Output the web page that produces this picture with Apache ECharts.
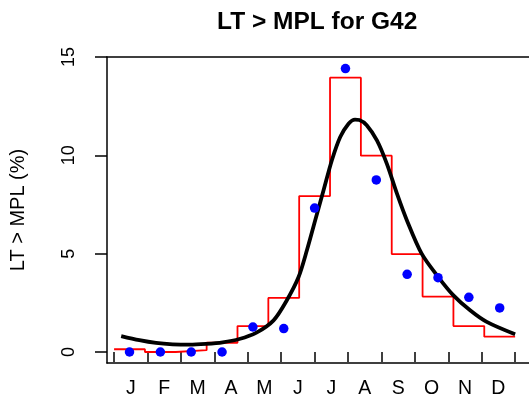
<!DOCTYPE html>
<html lang="en">
<head>
    <meta charset="UTF-8">
    <title>LT > MPL for G42</title>
    <script src="https://cdn.jsdelivr.net/npm/echarts@6/dist/echarts.min.js"></script>
    <style>
        html, body { margin: 0; padding: 0; background: #fff; }
    </style>
</head>
<body>
<div id="main" style="width:529px;height:407px;"></div>
<script>
    // month labels under the axis
    const months = ['J', 'F', 'M', 'A', 'M', 'J', 'J', 'A', 'S', 'O', 'N', 'D'];
    const yTicks = [0, 5, 10, 15];

    // 13 four-week periods: observed points (blue) and step values (red)
    const observed = [0, 0, 0, 0, 1.27, 1.19, 7.32, 14.41, 8.75, 3.95, 3.78, 2.78, 2.24];
    const stepVals = [0.14, 0.0, 0.09, 0.47, 1.32, 2.75, 7.93, 13.95, 9.98, 4.98, 2.82, 1.32, 0.78];

    // fitted curve (black), x in period units
    const curveX = [0.23, 0.82, 1.36, 1.90, 2.44, 2.98, 3.52, 4.06, 4.60, 5.17, 5.60, 5.98, 6.25, 6.52, 6.79,
        7.06, 7.33, 7.60, 7.81, 7.95, 8.19, 8.52, 8.84, 9.17, 9.49, 9.97, 10.51, 11.0, 11.54, 12.08, 13.0];
    const curveY = [0.81, 0.60, 0.46, 0.39, 0.37, 0.41, 0.49, 0.66, 0.97, 1.61, 2.63, 3.81, 5.17, 6.70, 8.22,
        9.75, 10.93, 11.61, 11.82, 11.80, 11.53, 10.76, 9.58, 8.05, 6.70, 5.00, 3.81, 2.88, 2.12, 1.53, 0.90];

    const font = 'Liberation Sans, Arial, sans-serif';
    // plot box runs past the right edge of the picture, so no right border
    const xMin = -0.23, xMax = 13.45;
    const nPer = observed.length;
    const k = months.length / nPer; // months per period

    let pts = observed.map((v, i) => [i + 0.5, v]);
    let steps = stepVals.map((v, i) => [i, v]);
    steps.push([nPer, stepVals[nPer - 1]]);
    let curve = curveX.map((x, i) => [x, curveY[i]]);

    let monthTicks = [];
    let monthMids = [];
    for (let m = 0; m <= months.length; m++) monthTicks.push(m);
    for (let m = 0; m < months.length; m++) monthMids.push(m + 0.5);

    const boxLine = {show: true, onZero: false, lineStyle: {color: '#000', width: 1.5}};

    let myChart = echarts.init(document.getElementById('main'), null, {renderer: 'canvas'});
    let option = {
        animation: false,
        backgroundColor: '#fff',
        title: {
            text: 'LT > MPL for G42',
            left: 212,
            top: 5,
            textStyle: {fontFamily: font, fontSize: 24.5, fontWeight: 'bold', color: '#000'}
        },
        grid: {left: 107, right: 0, top: 57, bottom: 44},
        xAxis: [{
            // period axis, draws bottom of the box
            type: 'value', min: xMin, max: xMax, position: 'bottom',
            axisLine: boxLine, axisTick: {show: false}, axisLabel: {show: false}, splitLine: {show: false}
        }, {
            // month axis, hanging just under the box
            type: 'value', position: 'bottom', offset: 2,
            min: xMin * k, max: xMax * k,
            axisLine: {show: false},
            splitLine: {show: false},
            axisTick: {show: true, length: 10, customValues: monthTicks,
                lineStyle: {color: '#000', width: 1.5}},
            axisLabel: {show: true, margin: 14, customValues: monthMids,
                fontFamily: font, fontSize: 19.5, color: '#000',
                formatter: v => months[Math.floor(v)]}
        }, {
            // top of the box
            type: 'value', min: xMin, max: xMax, position: 'top',
            axisLine: boxLine, axisTick: {show: false}, axisLabel: {show: false}, splitLine: {show: false}
        }],
        yAxis: {
            type: 'value', min: -0.56, max: 15,
            name: 'LT > MPL (%)', nameLocation: 'middle', nameGap: 79,
            nameTextStyle: {fontFamily: font, fontSize: 20, color: '#000'},
            axisLine: boxLine,
            splitLine: {show: false},
            axisTick: {show: true, length: 12, customValues: yTicks,
                lineStyle: {color: '#000', width: 1.5}},
            axisLabel: {show: true, rotate: 90, margin: 29, customValues: yTicks,
                fontFamily: font, fontSize: 18, color: '#000'}
        },
        series: [{
            type: 'line', data: steps, step: 'end', xAxisIndex: 0,
            symbol: 'none', lineStyle: {color: '#ff0000', width: 1.8}, z: 2
        }, {
            type: 'line', data: curve, smooth: 0.3, xAxisIndex: 0,
            symbol: 'none', lineStyle: {color: '#000', width: 3.8}, z: 3
        }, {
            type: 'scatter', data: pts, xAxisIndex: 0,
            symbolSize: 9.5, itemStyle: {color: '#0000ff', opacity: 1}, z: 4
        }]
    };
    myChart.setOption(option);
</script>
</body>
</html>
